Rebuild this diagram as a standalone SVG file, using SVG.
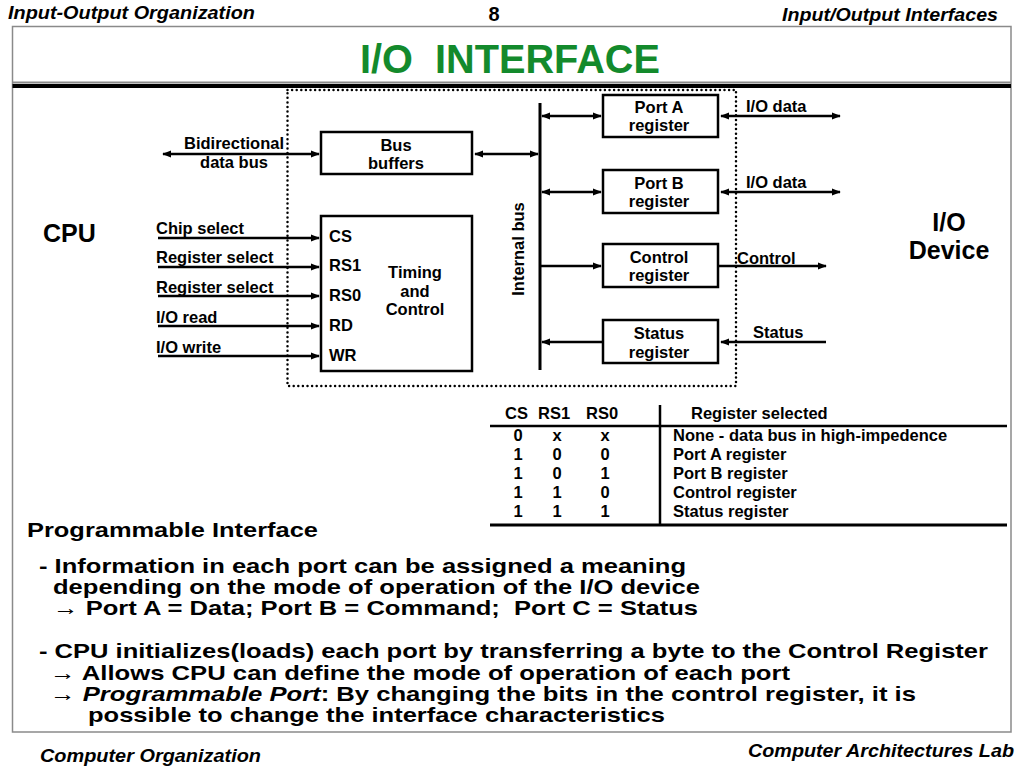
<svg xmlns="http://www.w3.org/2000/svg" width="1024" height="768" viewBox="0 0 1024 768">
<style>
.lbl{font-family:"Liberation Sans",Arial,sans-serif;font-weight:bold;font-size:16.5px;fill:#000}
.tb{font-family:"Liberation Sans",Arial,sans-serif;font-weight:bold;font-size:16.5px;fill:#000}
.c{text-anchor:middle}
.box{fill:#fff;stroke:#000;stroke-width:2.5}
.ln{stroke:#000;stroke-width:2.5;fill:none}
.body{font-family:"Liberation Sans",Arial,sans-serif;font-weight:bold;font-size:21px;fill:#000}
.hdr{font-family:"Liberation Sans",Arial,sans-serif;font-weight:bold;font-style:italic;font-size:18px;fill:#000}
.num{font-family:"Liberation Sans",Arial,sans-serif;font-weight:bold;font-size:20px;fill:#000}
.big{font-family:"Liberation Sans",Arial,sans-serif;font-weight:bold;font-size:25px;fill:#000}
</style>
<defs>
<marker id="ah" viewBox="0 0 10 8" refX="9" refY="4" markerWidth="9" markerHeight="8" markerUnits="userSpaceOnUse" orient="auto-start-reverse">
<path d="M0,0 L10,4 L0,8 z" fill="#000"/>
</marker>
</defs>
<rect width="1024" height="768" fill="#fff"/>
<!-- header / footer -->
<text class="hdr" x="8" y="19" textLength="247" lengthAdjust="spacingAndGlyphs">Input-Output Organization</text>
<text class="num" x="494" y="21" text-anchor="middle">8</text>
<text class="hdr" x="782" y="21" textLength="216" lengthAdjust="spacingAndGlyphs">Input/Output Interfaces</text>
<text class="hdr" x="40" y="762" textLength="221" lengthAdjust="spacingAndGlyphs">Computer Organization</text>
<text class="hdr" x="748" y="757" textLength="266" lengthAdjust="spacingAndGlyphs">Computer Architectures Lab</text>
<!-- frame -->
<rect x="12.5" y="26.5" width="998.5" height="705.5" fill="none" stroke="#8a8a8a" stroke-width="1.5"/>
<line x1="12.5" y1="82.5" x2="1011" y2="82.5" stroke="#8a8a8a" stroke-width="2"/>
<line x1="12.5" y1="86" x2="1011" y2="86" stroke="#000" stroke-width="4"/>
<text x="510" y="73" text-anchor="middle" font-family="'Liberation Sans',Arial,sans-serif" font-weight="bold" font-size="40" fill="#138a2c" textLength="300" lengthAdjust="spacingAndGlyphs" xml:space="preserve">I/O  INTERFACE</text>
<!-- dotted interface boundary -->
<rect x="287.5" y="90" width="448.5" height="296" fill="none" stroke="#000" stroke-width="2.5" stroke-linecap="round" stroke-dasharray="0 4.6"/>
<g id="cpu"><text class="big" x="43" y="242">CPU</text></g>
<g id="iodevice"><text class="big c" x="949" y="231">I/O</text><text class="big c" x="949" y="259">Device</text></g>
<g id="busbuffers">
<rect class="box" x="321" y="132" width="151" height="42"/>
<text class="lbl c" x="396" y="151">Bus</text><text class="lbl c" x="396" y="169">buffers</text>
</g>
<g id="timing">
<rect class="box" x="321" y="216" width="151" height="155"/>
<text class="lbl" x="329" y="242">CS</text>
<text class="lbl" x="329" y="271">RS1</text>
<text class="lbl" x="329" y="301">RS0</text>
<text class="lbl" x="329" y="331">RD</text>
<text class="lbl" x="329" y="361">WR</text>
<text class="lbl c" x="415" y="278">Timing</text>
<text class="lbl c" x="415" y="297">and</text>
<text class="lbl c" x="415" y="315">Control</text>
</g>
<g id="internalbus">
<line x1="540" y1="103" x2="540" y2="370" stroke="#000" stroke-width="3"/>
<text class="lbl c" transform="translate(524,249) rotate(-90)">Internal bus</text>
</g>
<g id="porta"><rect class="box" x="603" y="95" width="115" height="42"/><text class="lbl c" x="659" y="113">Port A</text><text class="lbl c" x="659" y="131">register</text></g>
<g id="portb"><rect class="box" x="603" y="170" width="115" height="43"/><text class="lbl c" x="659" y="189">Port B</text><text class="lbl c" x="659" y="207">register</text></g>
<g id="controlreg"><rect class="box" x="603" y="244" width="115" height="43"/><text class="lbl c" x="659" y="263">Control</text><text class="lbl c" x="659" y="281">register</text></g>
<g id="statusreg"><rect class="box" x="603" y="320" width="115" height="43"/><text class="lbl c" x="659" y="339">Status</text><text class="lbl c" x="659" y="358">register</text></g>
<g id="connectors">
<line class="ln" x1="163" y1="154" x2="319" y2="154" marker-start="url(#ah)" marker-end="url(#ah)"/>
<line class="ln" x1="475" y1="154" x2="538" y2="154" marker-start="url(#ah)" marker-end="url(#ah)"/>
<line class="ln" x1="158" y1="238" x2="319" y2="238" marker-end="url(#ah)"/>
<line class="ln" x1="158" y1="267" x2="319" y2="267" marker-end="url(#ah)"/>
<line class="ln" x1="158" y1="296" x2="319" y2="296" marker-end="url(#ah)"/>
<line class="ln" x1="158" y1="326" x2="319" y2="326" marker-end="url(#ah)"/>
<line class="ln" x1="158" y1="356" x2="319" y2="356" marker-end="url(#ah)"/>
<line class="ln" x1="542" y1="116" x2="601" y2="116" marker-start="url(#ah)" marker-end="url(#ah)"/>
<line class="ln" x1="542" y1="192" x2="601" y2="192" marker-start="url(#ah)" marker-end="url(#ah)"/>
<line class="ln" x1="541" y1="266" x2="601" y2="266" marker-end="url(#ah)"/>
<line class="ln" x1="603" y1="342" x2="542" y2="342" marker-end="url(#ah)"/>
<line class="ln" x1="721" y1="116" x2="840" y2="116" marker-start="url(#ah)" marker-end="url(#ah)"/>
<line class="ln" x1="721" y1="192" x2="840" y2="192" marker-start="url(#ah)" marker-end="url(#ah)"/>
<line class="ln" x1="719" y1="266" x2="826" y2="266" marker-end="url(#ah)"/>
<line class="ln" x1="826" y1="342" x2="721" y2="342" marker-end="url(#ah)"/>
</g>
<g id="labels">
<text class="lbl c" x="234" y="149">Bidirectional</text>
<text class="lbl c" x="234" y="168">data bus</text>
<text class="lbl" x="156" y="234">Chip select</text>
<text class="lbl" x="156" y="263">Register select</text>
<text class="lbl" x="156" y="293">Register select</text>
<text class="lbl" x="156" y="323">I/O read</text>
<text class="lbl" x="156" y="353">I/O write</text>
<text class="lbl" x="746" y="112">I/O data</text>
<text class="lbl" x="746" y="188">I/O data</text>
<text class="lbl" x="737" y="264">Control</text>
<text class="lbl" x="753" y="338">Status</text>
</g>
<g id="table">
<line x1="660" y1="405" x2="660" y2="524" stroke="#000" stroke-width="2.5"/>
<line x1="490" y1="426" x2="1007" y2="426" stroke="#000" stroke-width="2.5"/>
<line x1="490" y1="525" x2="1007" y2="525" stroke="#000" stroke-width="3"/>
<text class="tb" x="505" y="419">CS</text>
<text class="tb" x="538" y="419">RS1</text>
<text class="tb" x="586" y="419">RS0</text>
<text class="tb" x="691" y="419">Register selected</text>
<text class="tb c" x="518" y="441">0</text><text class="tb c" x="557" y="441">x</text><text class="tb c" x="605" y="441">x</text>
<text class="tb c" x="518" y="460">1</text><text class="tb c" x="557" y="460">0</text><text class="tb c" x="605" y="460">0</text>
<text class="tb c" x="518" y="479">1</text><text class="tb c" x="557" y="479">0</text><text class="tb c" x="605" y="479">1</text>
<text class="tb c" x="518" y="498">1</text><text class="tb c" x="557" y="498">1</text><text class="tb c" x="605" y="498">0</text>
<text class="tb c" x="518" y="517">1</text><text class="tb c" x="557" y="517">1</text><text class="tb c" x="605" y="517">1</text>
<text class="tb" x="673" y="441">None - data bus in high-impedence</text>
<text class="tb" x="673" y="460">Port A register</text>
<text class="tb" x="673" y="479">Port B register</text>
<text class="tb" x="673" y="498">Control register</text>
<text class="tb" x="673" y="517">Status register</text>
</g>
<g id="notes">
<text class="body" x="27" y="537" font-size="23" textLength="291" lengthAdjust="spacingAndGlyphs">Programmable Interface</text>
<text class="body" x="39" y="573" textLength="647" lengthAdjust="spacingAndGlyphs">- Information in each port can be assigned a meaning</text>
<text class="body" x="53" y="594" textLength="647" lengthAdjust="spacingAndGlyphs">depending on the mode of operation of the I/O device</text>
<text class="body" x="53" y="615" textLength="645" lengthAdjust="spacingAndGlyphs" xml:space="preserve">→ Port A = Data; Port B = Command;  Port C = Status</text>
<text class="body" x="39" y="658" textLength="949" lengthAdjust="spacingAndGlyphs">- CPU initializes(loads) each port by transferring a byte to the Control Register</text>
<text class="body" x="50" y="680" textLength="740" lengthAdjust="spacingAndGlyphs">→ Allows CPU can define the mode of operation of each port</text>
<text class="body" x="50" y="701" textLength="866" lengthAdjust="spacingAndGlyphs">→ <tspan font-style="italic">Programmable Port</tspan>: By changing the bits in the control register, it is</text>
<text class="body" x="88" y="722" textLength="577" lengthAdjust="spacingAndGlyphs">possible to change the interface characteristics</text>
</g>
</svg>
